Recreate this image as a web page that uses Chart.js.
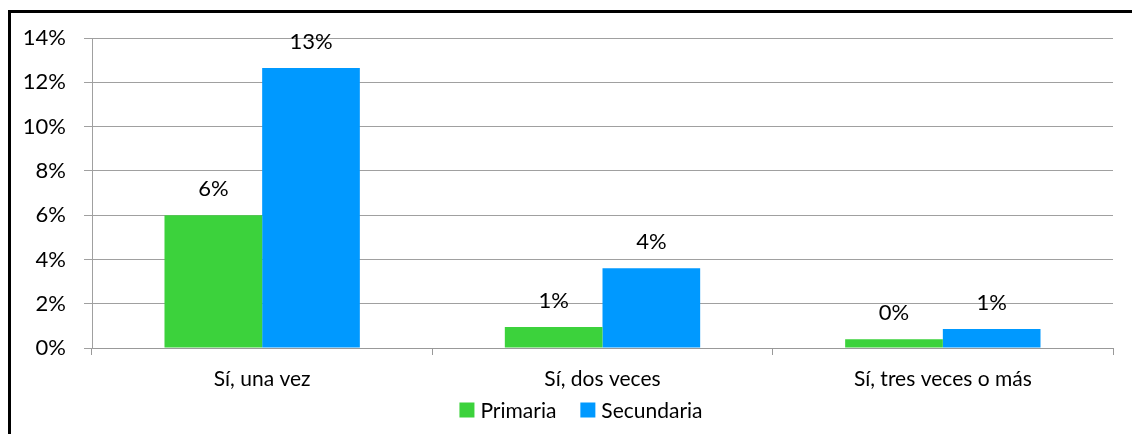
<!DOCTYPE html>
<html>
<head>
<meta charset="utf-8">
<script src="https://cdn.jsdelivr.net/npm/chart.js@4"></script>
<style>
  html, body { margin: 0; padding: 0; background: #fff; }
  #wrap { position: relative; width: 1132px; height: 434px; overflow: hidden; }
  #frame { position: absolute; left: 8px; top: 10px; width: 1200px; height: 500px; border-left: 3px solid #000; border-top: 3px solid #000; }
  canvas { position: absolute; left: 0; top: 0; }
</style>
</head>
<body>
<div id="wrap">
  <div id="frame"></div>
  <canvas id="c" width="1132" height="434"></canvas>
</div>
<script>
const categories = ["Sí, una vez", "Sí, dos veces", "Sí, tres veces o más"];
const primaria = [6.0, 0.95, 0.4];
const secundaria = [12.65, 3.6, 0.86];
const yTicks = [0, 2, 4, 6, 8, 10, 12, 14];

const FONT = "Lato, 'Open Sans', sans-serif";

const valueLabels = {
  id: 'valueLabels',
  afterDatasetsDraw(chart) {
    const ctx = chart.ctx;
    ctx.save();
    ctx.font = "22px " + FONT;
    ctx.fillStyle = "#000";
    ctx.textAlign = "center";
    ctx.textBaseline = "middle";
    chart.data.datasets.forEach((ds, i) => {
      const meta = chart.getDatasetMeta(i);
      meta.data.forEach((el, j) => {
        ctx.fillText(Math.round(ds.data[j]) + "%", el.x, el.y - 26);
      });
    });
    ctx.restore();
  }
};

// Legend drawn below the x axis, centred like the original
const bottomLegend = {
  id: 'bottomLegend',
  afterDraw(chart) {
    const ctx = chart.ctx;
    const box = 15, gapBoxText = 6, gapItems = 24;
    const centerX = 581, centerY = 410;
    ctx.save();
    ctx.font = "21px " + FONT;
    ctx.textBaseline = "middle";
    ctx.textAlign = "left";
    const items = chart.data.datasets.map(ds => ({
      label: ds.label, color: ds.backgroundColor, w: ctx.measureText(ds.label).width
    }));
    let total = 0;
    items.forEach((it, i) => { total += box + gapBoxText + it.w + (i < items.length - 1 ? gapItems : 0); });
    let x = centerX - total / 2;
    items.forEach(it => {
      ctx.fillStyle = it.color;
      ctx.fillRect(x, centerY - box / 2, box, box);
      ctx.fillStyle = "#000";
      ctx.fillText(it.label, x + box + gapBoxText, centerY + 1);
      x += box + gapBoxText + it.w + gapItems;
    });
    ctx.restore();
  }
};

new Chart(document.getElementById('c'), {
  type: 'bar',
  data: {
    labels: categories,
    datasets: [
      { label: 'Primaria', data: primaria, backgroundColor: '#3cd23c', borderWidth: 0 },
      { label: 'Secundaria', data: secundaria, backgroundColor: '#0099ff', borderWidth: 0 }
    ]
  },
  options: {
    responsive: false,
    animation: false,
    devicePixelRatio: 1,
    layout: { padding: { left: 0, right: 19, top: 38, bottom: 0 } },
    plugins: {
      legend: { display: false },
      tooltip: { enabled: false }
    },
    datasets: {
      bar: { categoryPercentage: 0.574, barPercentage: 1.0 }
    },
    scales: {
      x: {
        offset: true,
        grid: { offset: true, drawOnChartArea: false, drawTicks: true, tickLength: 7, color: '#999', tickColor: '#999' },
        border: { display: true, color: '#999', width: 1 },
        ticks: { font: { family: FONT, size: 21 }, color: '#000', padding: 12 },
        afterFit(scale) { scale.height = 86; }
      },
      y: {
        min: 0, max: 14,
        afterBuildTicks(scale) { scale.ticks = yTicks.map(v => ({ value: v })); },
        grid: { color: '#a0a0a0', lineWidth: 1, drawTicks: true, tickLength: 8, tickColor: '#a0a0a0' },
        border: { display: true, color: '#a0a0a0', width: 1 },
        ticks: { font: { family: FONT, size: 22 }, color: '#000', padding: 18, callback: v => v + '%' },
        afterFit(scale) { scale.width = 92; }
      }
    }
  },
  plugins: [valueLabels, bottomLegend]
});
</script>
</body>
</html>
